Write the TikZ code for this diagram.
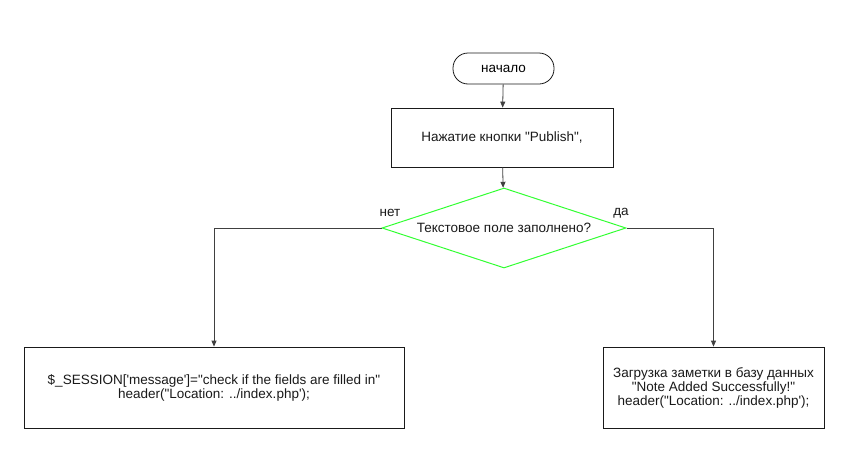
\documentclass[tikz,border=0pt]{standalone}
\usepackage{fontspec}
\setmainfont{Liberation Sans}[Ligatures=TeXOff]
\usetikzlibrary{arrows.meta,shapes.geometric}
\definecolor{ink}{HTML}{1A1A1A}
\definecolor{wire}{HTML}{404040}
\definecolor{cond}{HTML}{33FF33}

\begin{document}
\begin{tikzpicture}[x=1pt,y=-1pt,font=\fontsize{13.5}{14}\selectfont,
  terminal/.style={draw=ink,fill=white,line width=0.8pt,rounded corners=15pt,minimum width=101pt,minimum height=31pt,inner sep=0pt},
  procbox/.style={draw=ink,fill=white,line width=0.8pt,align=center,inner sep=0pt,text=ink},
  decision/.style={diamond,aspect=3.05,draw=cond,fill=white,line width=1pt,minimum width=244pt,minimum height=80pt,inner sep=0pt,text=ink},
  flow/.style={-{Triangle[length=6pt,width=5pt]},line width=0.8pt,wire},
  branch/.style={text=ink}]
  \useasboundingbox[fill=white] (0,0) rectangle (862,469);

  % ===== nodes =====
  \node[terminal] (start) at (503.5,68.5) {начало};
  \node[procbox,minimum width=222pt,minimum height=59pt] (press) at (502,137.5) {Нажатие кнопки "Publish",};
  \node[decision] (check) at (504,228) {Текстовое поле заполнено?};
  \node[procbox,minimum width=380pt,minimum height=81pt] (fail) at (214,387.5) {\$\_SESSION['message']="check if the fields are filled in"\\header("Location: ../index.php');};
  \node[procbox,minimum width=221pt,minimum height=81pt] (save) at (713.5,387.5) {Загрузка заметки в базу данных\\"Note Added Successfully!"\\header("Location: ../index.php');};

  % ===== flows =====
  \draw[flow] (start) -- (press);
  \draw[flow] (press) -- (check);
  \draw[flow] (check.west) -| (fail.north);
  \draw[flow] (check.east) -| (save.north);
  \node[branch] (no) at (390,213) {нет};
  \node[branch] (yes) at (621,213) {да};
\end{tikzpicture}
\end{document}
